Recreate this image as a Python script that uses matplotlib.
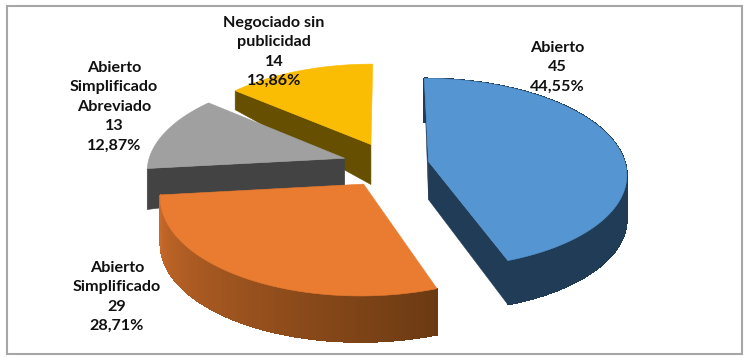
import numpy as np
import matplotlib
matplotlib.use("Agg")
import matplotlib.pyplot as plt
from matplotlib.patches import Polygon, Rectangle
from matplotlib.colors import to_rgb

names = ["Abierto", "Abierto\nSimplificado", "Abierto\nSimplificado\nAbreviado", "Negociado sin\npublicidad"]
values = [45, 29, 13, 14]
percents = ["44,55%", "28,71%", "12,87%", "13,86%"]

top_colors = ["#5596D2", "#E97C30", "#A0A0A0", "#FBBC04"]
wall_colors = ["#203C57", "#C96A2A", "#434343", "#665000"]
wall_end_colors = ["#203C57", "#6B3A12", "#434343", "#665000"]
label_pos = [(557, 67), (117, 297), (114, 107), (274, 52)]

# projection
X0, Y0, A, B, K, EXPL = 386, 166, 197, 94, 0.12, 0.21
NUDGE = [(2, -1), (0, 1), (-2, -2), (2, -4)]
ARC_H = [44, 46, None, None]
# (theta index 0=start, 1=end; corner height, apex height)
FLAT = {0: [(0, 0, 38), (1, 44, 38)], 1: [], 2: [(0, 41, 27)], 3: [(0, 19, 40)]}

fig = plt.figure(figsize=(7.49, 3.62), dpi=100)
ax = fig.add_axes([0, 0, 1, 1])
ax.set_xlim(0, 749)
ax.set_ylim(362, 0)
ax.axis("off")
ax.add_patch(Rectangle((7, 6), 735, 348, fill=False, ec="#A6A6A6", lw=1.5))

total = sum(values)
edges = np.concatenate([[0], np.cumsum(values)]) / total * 2 * np.pi


def project(theta, r, mid, nudge):
    x = EXPL * np.sin(mid) + r * np.sin(theta)
    y = EXPL * np.cos(mid) + r * np.cos(theta)
    w = 1 + K * y
    return X0 + A * x / w + nudge[0], Y0 - B * y / w + nudge[1]


def draw_slice(i):
    t0, t1 = edges[i], edges[i + 1]
    mid = (t0 + t1) / 2
    ts = np.linspace(t0, t1, 160)
    ax_, ay_ = project(ts, 1.0, mid, NUDGE[i])
    cx, cy = project(t0, 0.0, mid, NUDGE[i])
    if ARC_H[i] is not None:
        c0 = np.array(to_rgb(wall_colors[i]))
        c1 = np.array(to_rgb(wall_end_colors[i]))
        for j in range(len(ts) - 1):
            f = 1 - j / (len(ts) - 2)
            col = c0 + (c1 - c0) * f
            ax.add_patch(Polygon([(ax_[j], ay_[j]), (ax_[j + 1], ay_[j + 1]),
                                  (ax_[j + 1], ay_[j + 1] + ARC_H[i]), (ax_[j], ay_[j] + ARC_H[i])],
                                 fc=col, ec=col, lw=0.6, antialiased=False))
    for idx, hc, ha in FLAT[i]:
        k = 0 if idx == 0 else -1
        ax.add_patch(Polygon([(ax_[k], ay_[k]), (cx, cy), (cx, cy + ha), (ax_[k], ay_[k] + hc)],
                             fc=wall_colors[i], ec=wall_colors[i], lw=0.4))
    pts = [(cx, cy)] + list(zip(ax_, ay_))
    ax.add_patch(Polygon(pts, closed=True, fc=top_colors[i], ec=top_colors[i], lw=0.4))


for i in [3, 2, 0, 1]:
    draw_slice(i)

for i in range(4):
    ax.text(label_pos[i][0], label_pos[i][1], f"{names[i]}\n{values[i]}\n{percents[i]}",
            ha="center", va="center", family="Lato", weight="bold", fontsize=11.6,
            linespacing=1.5, color="#111111")

fig.savefig("out.png", dpi=100, facecolor="white")
